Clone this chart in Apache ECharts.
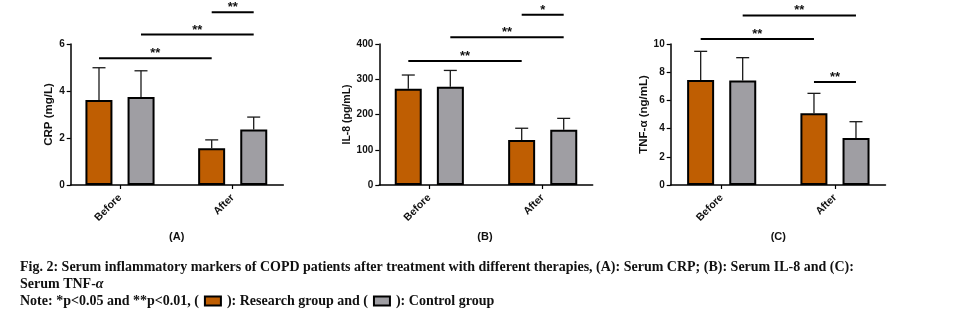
<!DOCTYPE html>
<html>
<head>
<meta charset="utf-8">
<script src="https://cdn.jsdelivr.net/npm/echarts@6/dist/echarts.min.js"></script>
<style>html,body{margin:0;padding:0;background:#fff}#c{width:971px;height:329px}</style>
</head>
<body>
<div id="c"></div>
<script>
// ---- data ----
const categories = ['Before', 'After'];
const crpResearch = [3.62, 1.56];
const crpResearchSD = [1.37, 0.36];
const crpControl = [3.75, 2.36];
const crpControlSD = [1.11, 0.53];
const il8Research = [273, 128];
const il8ResearchSD = [39, 33];
const il8Control = [279, 157];
const il8ControlSD = [46, 32];
const tnfResearch = [7.45, 5.08];
const tnfResearchSD = [2.03, 1.42];
const tnfControl = [7.42, 3.33];
const tnfControlSD = [1.61, 1.16];
// significance: [startCategory, startGroup, endCategory, endGroup, height], with labels
const sigA = [[0, 0, 1, 0, 5.39], [0, 1, 1, 1, 6.40], [1, 0, 1, 1, 7.35]];
const sigALabels = ['**', '**', '**'];
const sigB = [[0, 0, 1, 0, 352], [0, 1, 1, 1, 419], [1, 0, 1, 1, 483]];
const sigBLabels = ['**', '**', '*'];
const sigC = [[0, 0, 1, 0, 10.35], [0, 1, 1, 1, 12.03], [1, 0, 1, 1, 7.30]];
const sigCLabels = ['**', '**', '**'];
const yTicksA = [0, 6, 2];
const yTicksB = [0, 400, 100];
const yTicksC = [0, 10, 2];
const yNames = ['CRP (mg/L)', 'IL-8 (pg/mL)', 'TNF-α (ng/mL)'];
const panelLabels = ['(A)', '(B)', '(C)'];

// ---- style ----
const ORANGE = '#BF5E02';
const GRAY = '#9F9EA3';
const FONT = "'Liberation Sans', Arial, sans-serif";
const BAR_W = 27;
const GROUP_OFF = 21;

const panels = [
  {left: 70.7, width: 212.6, xmin: -0.4374, xmax: 1.449, y: yTicksA, name: yNames[0], nameGap: 11, nameSize: 11.5,
   r: crpResearch, rs: crpResearchSD, c: crpControl, cs: crpControlSD, sig: sigA, sigL: sigALabels, lab: panelLabels[0], labX: 176.7},
  {left: 379.3, width: 213.4, xmin: -0.441, xmax: 1.441, y: yTicksB, name: yNames[1], nameGap: 24.5, nameSize: 10.5,
   r: il8Research, rs: il8ResearchSD, c: il8Control, cs: il8ControlSD, sig: sigB, sigL: sigBLabels, lab: panelLabels[1], labX: 485},
  {left: 670.7, width: 214.8, xmin: -0.450, xmax: 1.446, y: yTicksC, name: yNames[2], nameGap: 16, nameSize: 11.5,
   r: tnfResearch, rs: tnfResearchSD, c: tnfControl, cs: tnfControlSD, sig: sigC, sigL: sigCLabels, lab: panelLabels[2], labX: 778.3}
];

const grid = [], xAxis = [], yAxis = [], series = [], title = [];

function errRender(offset) {
  return function (params, api) {
    const x = api.value(0), m = api.value(1), u = api.value(2);
    const p0 = api.coord([x, m]);
    const p1 = api.coord([x, u]);
    const cx = p0[0] + offset;
    const st = {stroke: '#1a1a1a', lineWidth: 1.3};
    return {type: 'group', children: [
      {type: 'line', shape: {x1: cx, y1: p0[1], x2: cx, y2: p1[1]}, style: st},
      {type: 'line', shape: {x1: cx - 6.5, y1: p1[1], x2: cx + 6.5, y2: p1[1]}, style: st}
    ]};
  };
}

function sigRender(labels) {
  return function (params, api) {
    const c1 = api.value(0), g1 = api.value(1), c2 = api.value(2), g2 = api.value(3), h = api.value(4);
    const a = api.coord([c1, h]);
    const b = api.coord([c2, h]);
    const x1 = a[0] + (g1 ? GROUP_OFF : -GROUP_OFF);
    const x2 = b[0] + (g2 ? GROUP_OFF : -GROUP_OFF);
    return {type: 'group', children: [
      {type: 'line', shape: {x1: x1, y1: a[1], x2: x2, y2: a[1]}, style: {stroke: '#000', lineWidth: 2}},
      {type: 'text', style: {text: labels[params.dataIndex], x: (x1 + x2) / 2, y: a[1] + 2,
        align: 'center', verticalAlign: 'bottom', font: 'bold 13px ' + FONT, fill: '#111'}}
    ]};
  };
}

panels.forEach((p, i) => {
  grid.push({left: p.left, top: 44, width: p.width, height: 141, containLabel: false});
  xAxis.push({
    type: 'value', gridIndex: i, min: p.xmin, max: p.xmax,
    splitLine: {show: false},
    axisLine: {show: true, onZero: false, lineStyle: {color: '#000', width: 1.5}},
    axisTick: {show: true, customValues: [0, 1], length: 4, lineStyle: {color: '#000', width: 1.2}},
    axisLabel: {show: true, customValues: [0, 1], rotate: 45, margin: 11,
      formatter: v => categories[Math.round(v)] || '',
      fontFamily: FONT, fontWeight: 'bold', fontSize: 10.5, color: '#111'}
  });
  yAxis.push({
    type: 'value', gridIndex: i, min: p.y[0], max: p.y[1], interval: p.y[2],
    name: p.name, nameLocation: 'middle', nameRotate: 90, nameGap: p.nameGap,
    nameTextStyle: {fontFamily: FONT, fontWeight: 'bold', fontSize: p.nameSize, color: '#111'},
    splitLine: {show: false},
    axisLine: {show: true, onZero: false, lineStyle: {color: '#000', width: 1.5}},
    axisTick: {show: true, length: 4, lineStyle: {color: '#000', width: 1.2}},
    axisLabel: {margin: 6, fontFamily: FONT, fontWeight: 'bold', fontSize: 10, color: '#111'}
  });
  series.push({
    type: 'bar', xAxisIndex: i, yAxisIndex: i, barWidth: BAR_W, barGap: '56%',
    data: p.r.map((v, k) => [k, v]),
    itemStyle: {color: ORANGE, borderColor: '#000', borderWidth: 2}, z: 3
  });
  series.push({
    type: 'bar', xAxisIndex: i, yAxisIndex: i, barWidth: BAR_W, barGap: '56%',
    data: p.c.map((v, k) => [k, v]),
    itemStyle: {color: GRAY, borderColor: '#000', borderWidth: 2}, z: 3
  });
  series.push({
    type: 'custom', xAxisIndex: i, yAxisIndex: i, clip: false, z: 2,
    renderItem: errRender(-GROUP_OFF),
    data: p.r.map((v, k) => [k, v, v + p.rs[k]])
  });
  series.push({
    type: 'custom', xAxisIndex: i, yAxisIndex: i, clip: false, z: 2,
    renderItem: errRender(GROUP_OFF),
    data: p.c.map((v, k) => [k, v, v + p.cs[k]])
  });
  series.push({
    type: 'custom', xAxisIndex: i, yAxisIndex: i, clip: false, z: 4,
    renderItem: sigRender(p.sigL),
    data: p.sig
  });
  title.push({text: p.lab, left: p.labX, top: 231, textAlign: 'center', padding: 0,
    textStyle: {fontFamily: FONT, fontWeight: 'bold', fontSize: 11, color: '#111'}});
});

const serif = "'Liberation Serif', 'Times New Roman', serif";
const capStyle = {fontFamily: serif, fontWeight: 'bold', fontSize: 14, color: '#111',
  rich: {
    it: {fontFamily: serif, fontStyle: 'italic', fontSize: 14, color: '#111'},
    s: {width: 7, fontSize: 14},
    o: {width: 14, height: 7, backgroundColor: ORANGE, borderColor: '#000', borderWidth: 2},
    g: {width: 14, height: 7, backgroundColor: GRAY, borderColor: '#000', borderWidth: 2}
  }};
title.push({text: 'Fig. 2: Serum inflammatory markers of COPD patients after treatment with different therapies, (A): Serum CRP; (B): Serum IL-8 and (C):',
  left: 20, top: 260, padding: 0, textStyle: capStyle});
title.push({text: 'Serum TNF-{it|α}', left: 20, top: 277, padding: 0, textStyle: capStyle});
title.push({text: 'Note: *p<0.05 and **p<0.01, ({s| }{o|}{s| }): Research group and ({s| }{g|}{s| }): Control group',
  left: 20, top: 294, padding: 0, textStyle: capStyle});

const chart = echarts.init(document.getElementById('c'), null, {renderer: 'canvas'});
chart.setOption({animation: false, backgroundColor: '#fff', title, grid, xAxis, yAxis, series});
</script>
</body>
</html>
